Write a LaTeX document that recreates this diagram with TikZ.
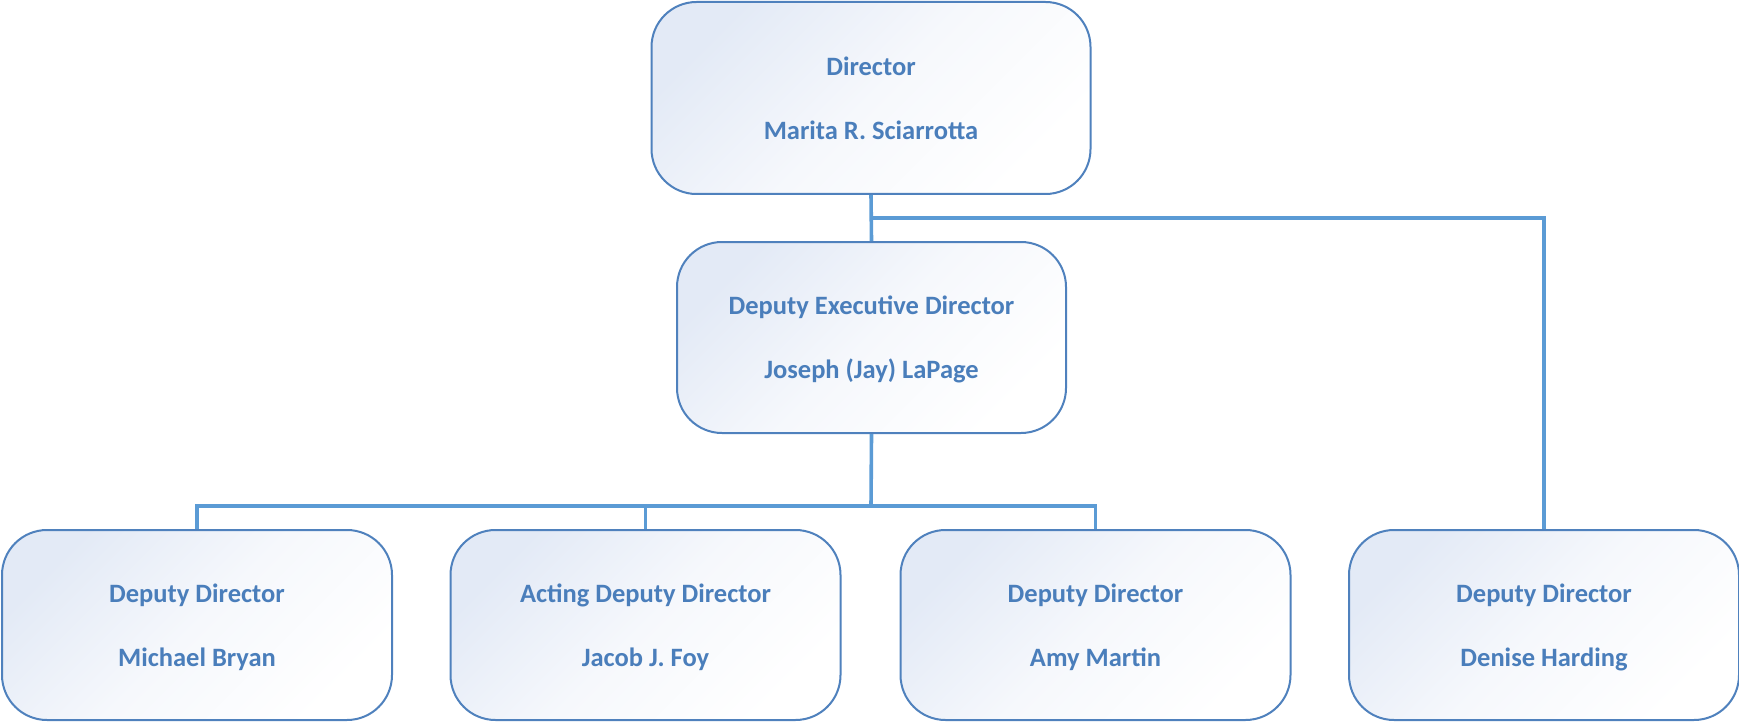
\documentclass[tikz,border=0pt]{standalone}
\usepackage{fontspec}
\setmainfont{Carlito}
\definecolor{txtblue}{HTML}{4A7EBB}
\definecolor{edgeblue}{HTML}{4F81BD}
\definecolor{lineblue}{HTML}{5B9BD5}
\definecolor{fillblue}{HTML}{E3EAF6}
\definecolor{fillmid}{HTML}{F6F8FC}
\begin{document}
\begin{tikzpicture}[
  x=1pt,y=-1pt,
  orgbox/.style={draw=edgeblue, line width=2pt, rounded corners=45pt,
    top color=fillblue, bottom color=white, middle color=fillmid, shading angle=45,
    inner sep=0pt, align=center, text=txtblue, text depth=0pt,
    font=\fontsize{26.5}{64}\selectfont\bfseries},
  link/.style={draw=lineblue, line width=3.6pt}
]
\useasboundingbox (0,0) rectangle (1739,722);
\node[orgbox, minimum width=439pt, minimum height=192pt] (dir) at (871,98) {Director\\Marita R. Sciarrotta};
\node[orgbox, minimum width=389pt, minimum height=191pt] (exec) at (871.5,337.5) {Deputy Executive Director\\Joseph (Jay) LaPage};
\node[orgbox, minimum width=390pt, minimum height=190pt] (b1) at (197,625) {Deputy Director\\Michael Bryan};
\node[orgbox, minimum width=390pt, minimum height=190pt] (b2) at (645.5,625) {Acting Deputy Director\\Jacob J. Foy};
\node[orgbox, minimum width=390pt, minimum height=190pt] (b3) at (1095.5,625) {Deputy Director\\Amy Martin};
\node[orgbox, minimum width=390pt, minimum height=190pt] (b4) at (1544,625) {Deputy Director\\Denise Harding};
\coordinate (j1) at (871,218);
\coordinate (j2) at (871,506);
\draw[link] (dir.south) -- (exec.north);
\draw[link] (j1) -| (b4.north);
\draw[link] (exec.south) -- (j2);
\draw[link] (b1.north) -- (b1.north |- j2) -- (b3.north |- j2) -- (b3.north);
\draw[link] (b2.north) -- (b2.north |- j2);
\end{tikzpicture}
\end{document}
